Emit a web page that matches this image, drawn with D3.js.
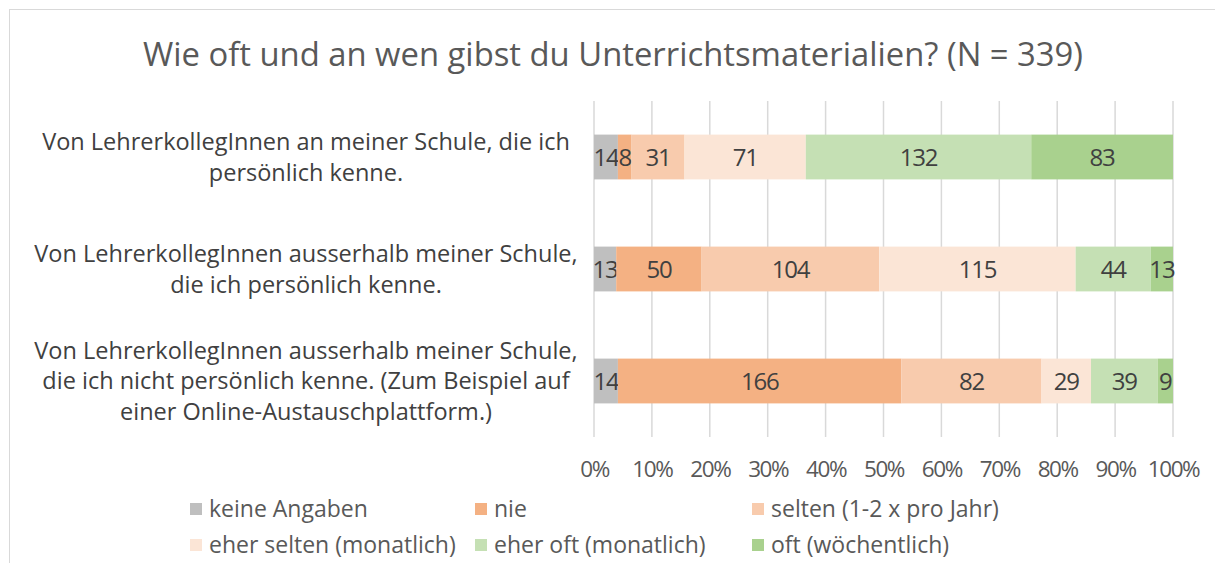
<!DOCTYPE html>
<html>
<head>
<meta charset="utf-8">
<script src="https://cdn.jsdelivr.net/npm/d3@7"></script>
<style>
  body { margin: 0; background: #fff; }
  text { font-family: "Open Sans", sans-serif; }
</style>
</head>
<body>
<div id="chart"></div>
<script>
// data
var categories = [
    ["Von LehrerkollegInnen an meiner Schule, die ich", "persönlich kenne."],
    ["Von LehrerkollegInnen ausserhalb meiner Schule,", "die ich persönlich kenne."],
    ["Von LehrerkollegInnen ausserhalb meiner Schule,", "die ich nicht persönlich kenne. (Zum Beispiel auf", "einer Online-Austauschplattform.)"]
];
var seriesNames = ["keine Angaben", "nie", "selten (1-2 x pro Jahr)", "eher selten (monatlich)", "eher oft (monatlich)", "oft (wöchentlich)"];
var keineAngaben = [14, 13, 14];
var nie = [8, 50, 166];
var selten = [31, 104, 82];
var eherSelten = [71, 115, 29];
var eherOft = [132, 44, 39];
var oft = [83, 13, 9];
var tickValues = [0, 0.1, 0.2, 0.3, 0.4, 0.5, 0.6, 0.7, 0.8, 0.9, 1];
var colors = ["#BFBFBF", "#F4B183", "#F8CBAD", "#FBE5D6", "#C5E0B4", "#A9D18E"];

var width = 1215, height = 563;
var svg = d3.select("#chart").append("svg")
    .attr("width", width)
    .attr("height", height);

// chart border
svg.append("rect")
    .attr("x", 9.5).attr("y", 9.5)
    .attr("width", width + 20).attr("height", height + 20)
    .attr("fill", "none")
    .attr("stroke", "#d9d9d9");

svg.append("text")
    .attr("x", 613).attr("y", 66)
    .attr("text-anchor", "middle")
    .attr("font-size", 32.8)
    .attr("fill", "#595959")
    .text("Wie oft und an wen gibst du Unterrichtsmaterialien? (N = 339)");

var series = [keineAngaben, nie, selten, eherSelten, eherOft, oft];
var rows = categories.map((c, i) => {
    let r = {idx: i};
    let total = d3.sum(series, s => s[i]);
    series.forEach((s, k) => r[k] = s[i] / total);
    r.raw = series.map(s => s[i]);
    return r;
});
var stack = d3.stack().keys(d3.range(series.length))(rows);

var x = d3.scaleLinear().domain([0, 1]).range([594, 1173]);
var y = d3.scaleBand().domain(d3.range(categories.length)).range([101, 437]).paddingInner(0.6).paddingOuter(0.3);

// gridlines
svg.append("g")
    .selectAll("line")
    .data(tickValues)
    .enter()
    .append("line")
    .attr("x1", d => x(d)).attr("x2", d => x(d))
    .attr("y1", 101).attr("y2", 437)
    .attr("stroke", "#d9d9d9")
    .attr("stroke-width", 1.5);

// bars
var layers = svg.append("g")
    .selectAll("g")
    .data(stack)
    .enter()
    .append("g")
    .attr("fill", (d, k) => colors[k]);

layers.selectAll("rect")
    .data(d => d)
    .enter()
    .append("rect")
    .attr("x", d => x(d[0]))
    .attr("width", d => x(d[1]) - x(d[0]))
    .attr("y", d => y(d.data.idx))
    .attr("height", y.bandwidth());

layers.selectAll("text")
    .data((d, k) => d.map(v => ({v: v, k: k})))
    .enter()
    .append("text")
    .attr("x", d => (x(d.v[0]) + x(d.v[1])) / 2)
    .attr("y", d => y(d.v.data.idx) + y.bandwidth() / 2)
    .attr("dy", "0.36em")
    .attr("text-anchor", "middle")
    .attr("font-size", 24)
    .attr("letter-spacing", -1.2)
    .attr("fill", "#404040")
    .text(d => d.v.data.raw[d.k]);

// x axis labels
var xAxis = d3.axisBottom(x)
    .tickValues(tickValues)
    .tickFormat(d3.format(".0%"))
    .tickSize(0)
    .tickPadding(0);
var gx = svg.append("g")
    .attr("transform", "translate(0,461)")
    .call(xAxis);
gx.select(".domain").remove();
gx.selectAll("text")
    .attr("font-size", 22.5)
    .attr("letter-spacing", -1.4)
    .attr("fill", "#595959")
    .style("font-family", "'Open Sans', sans-serif");

// category labels
var lineH = 30.5;
var cat = svg.append("g")
    .selectAll("text")
    .data(categories)
    .enter()
    .append("text")
    .attr("text-anchor", "middle")
    .attr("font-size", 23.5)
    .attr("fill", "#404040")
    .attr("y", (d, i) => y(i) + y.bandwidth() / 2 - (d.length - 1) * lineH / 2);
cat.selectAll("tspan")
    .data(d => d)
    .enter()
    .append("tspan")
    .attr("x", 306)
    .attr("dy", (d, j) => j == 0 ? "0.36em" : lineH)
    .text(d => d);

// legend
var legendX = [190, 475, 752];
var legendY = [509, 545];
var legend = svg.append("g")
    .selectAll("g")
    .data(seriesNames)
    .enter()
    .append("g")
    .attr("transform", (d, k) => "translate(" + legendX[k % 3] + "," + legendY[Math.floor(k / 3)] + ")");
legend.append("rect")
    .attr("x", 0).attr("y", -6)
    .attr("width", 12).attr("height", 12)
    .attr("fill", (d, k) => colors[k]);
legend.append("text")
    .attr("x", 19)
    .attr("dy", "0.36em")
    .attr("font-size", 23)
    .attr("fill", "#595959")
    .text(d => d);
</script>
</body>
</html>
